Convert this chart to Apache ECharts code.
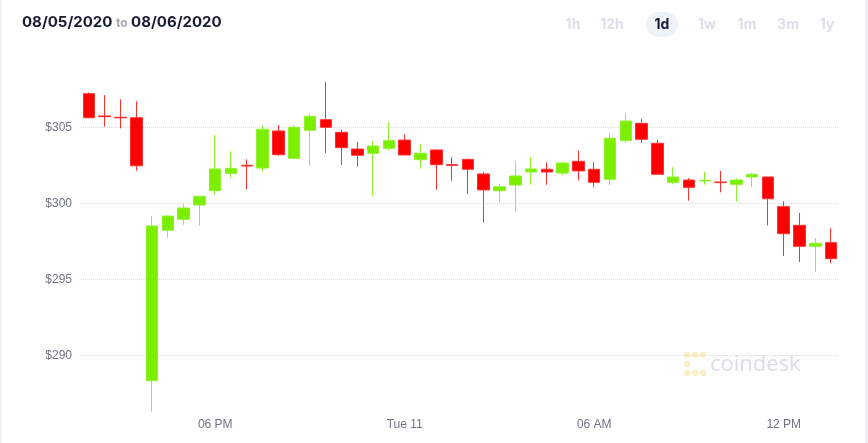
<!DOCTYPE html>
<html>
<head>
<meta charset="utf-8">
<script src="https://cdn.jsdelivr.net/npm/echarts@6/dist/echarts.min.js"></script>
<style>
  html, body { margin: 0; padding: 0; background: #fff; }
  #chart { width: 868px; height: 443px; }
</style>
</head>
<body>
<div id="chart"></div>
<script>
// half-hour candles, Mon 10 14:00 -> Tue 11 13:30
var times = ['14:00','14:30','15:00','15:30','16:00','16:30','17:00','17:30',
  '18:00','18:30','19:00','19:30','20:00','20:30','21:00','21:30',
  '22:00','22:30','23:00','23:30','00:00','00:30','01:00','01:30',
  '02:00','02:30','03:00','03:30','04:00','04:30','05:00','05:30',
  '06:00','06:30','07:00','07:30','08:00','08:30','09:00','09:30',
  '10:00','10:30','11:00','11:30','12:00','12:30','13:00','13:30'];

var xTickLabels = { '18:00': '06 PM', '00:00': 'Tue 11', '06:00': '06 AM', '12:00': '12 PM' };

var openPrices = [307.21, 305.75, 305.66, 305.63, 288.33, 298.22, 298.95, 299.89, 300.83, 301.97, 302.50, 302.32,
  304.76, 302.96, 304.80, 305.50, 304.67, 303.57, 303.29, 303.62, 304.16, 302.87, 303.51, 302.55,
  302.89, 301.93, 300.83, 301.20, 302.06, 302.24, 301.99, 302.76, 302.24, 301.58, 304.12, 305.26,
  303.95, 301.38, 301.53, 301.47, 301.40, 301.25, 301.73, 301.73, 299.78, 298.55, 297.17, 297.41];
var closePrices = [305.63, 305.70, 305.62, 302.47, 298.51, 299.16, 299.69, 300.46, 302.26, 302.30, 302.45, 304.87,
  303.20, 305.00, 305.72, 305.00, 303.66, 303.16, 303.77, 304.12, 303.18, 303.29, 302.54, 302.50,
  302.24, 300.88, 301.09, 301.80, 302.26, 302.06, 302.65, 302.13, 301.38, 304.28, 305.41, 304.21,
  301.91, 301.73, 301.05, 301.51, 301.36, 301.53, 301.91, 300.30, 298.00, 297.17, 297.37, 296.36];
var lowPrices = [305.60, 305.04, 304.93, 302.14, 286.29, 297.74, 298.59, 298.53, 300.57, 301.68, 300.92, 302.08,
  303.13, 302.89, 302.47, 303.31, 302.52, 302.41, 300.48, 303.46, 303.15, 302.28, 300.89, 301.49,
  300.61, 298.72, 300.09, 299.45, 301.22, 301.22, 301.84, 301.51, 301.05, 301.20, 303.99, 303.95,
  301.90, 301.25, 300.17, 301.22, 300.72, 300.11, 301.07, 298.55, 296.53, 296.14, 295.48, 296.05];
var highPrices = [307.30, 307.12, 306.84, 306.71, 299.18, 299.20, 299.95, 300.50, 304.49, 303.42, 302.89, 305.09,
  305.15, 305.15, 305.89, 307.98, 304.82, 304.03, 304.12, 305.35, 304.54, 303.90, 303.55, 303.05,
  302.93, 302.08, 301.27, 302.78, 303.05, 302.70, 302.74, 303.46, 302.72, 304.58, 305.92, 305.55,
  304.18, 302.39, 301.66, 302.08, 302.13, 301.64, 301.99, 301.75, 300.13, 299.36, 297.72, 298.36];

var ranges = ['1h', '12h', '1d', '1w', '1m', '3m', '1y'];
var rangeX = [573, 612, 662, 707, 747, 788, 827];

var candles = [];
for (var i = 0; i < times.length; i++) {
  candles.push([openPrices[i], closePrices[i], lowPrices[i], highPrices[i]]);
}

var buttons = [{
  type: 'rect',
  shape: { x: 646, y: 12, width: 32, height: 25, r: 12.5 },
  style: { fill: '#eff2f8' }
}];
ranges.forEach(function (r, k) {
  buttons.push({
    type: 'text',
    x: rangeX[k], y: 25,
    style: {
      text: r,
      fill: r === '1d' ? '#141a38' : '#dcdfe9',
      font: 'bold 14px Inter',
      align: 'center', verticalAlign: 'middle'
    }
  });
});

// watermark dots + word
var logo = [];
[[687, 355], [695, 355], [703, 355], [687, 364], [687, 373], [695, 373], [703, 373]].forEach(function (p) {
  logo.push({ type: 'circle', shape: { cx: p[0], cy: p[1], r: 3.2 }, style: { fill: '#fdeec8' } });
});
logo.push({
  type: 'text', x: 710, y: 365,
  style: { text: 'coindesk', fill: '#dadde4', font: '22px "Open Sans"', verticalAlign: 'middle' }
});

var myChart = echarts.init(document.getElementById('chart'));

myChart.setOption({
  animation: false,
  backgroundColor: '#fff',
  title: {
    left: 22, top: 15, padding: 0,
    text: '08/05/2020 {to|to} 08/06/2020',
    textStyle: {
      fontFamily: 'Inter', fontWeight: 'bold', fontSize: 15, color: '#161a33',
      rich: { to: { fontFamily: 'Inter', fontSize: 12, color: '#a3a7b4', padding: [2, 0, 0, 0] } }
    }
  },
  graphic: [
    { type: 'rect', shape: { x: 0, y: 0, width: 2, height: 443 }, style: { fill: '#eef1f6' } },
    { type: 'rect', shape: { x: 865, y: 0, width: 3, height: 443 }, style: { fill: '#eef1f6' } }
  ].concat(buttons).concat(logo),
  grid: { left: 81, right: 29, top: 51.3, bottom: 11.7 },
  xAxis: {
    type: 'category',
    data: times,
    offset: -21,
    axisLine: { show: false },
    axisTick: { show: false },
    splitLine: { show: false },
    axisLabel: {
      interval: 0,
      color: '#6e7382',
      fontFamily: 'Liberation Sans',
      fontSize: 12,
      formatter: function (v) { return xTickLabels[v] || ''; }
    }
  },
  yAxis: {
    type: 'value',
    min: 285, max: 310, interval: 5,
    axisLine: { show: false },
    axisTick: { show: false },
    axisLabel: {
      showMinLabel: false, showMaxLabel: false,
      color: '#6e7382',
      fontFamily: 'Liberation Sans',
      fontSize: 12,
      margin: 9,
      formatter: function (v) { return '$' + v; }
    },
    splitLine: {
      showMinLine: false, showMaxLine: false,
      lineStyle: { color: '#d9dbe2', type: 'dotted', width: 1 }
    }
  },
  series: [{
    type: 'candlestick',
    data: candles,
    barWidth: 12,
    itemStyle: {
      color: '#7cee00',
      color0: '#ff0000',
      borderColor: '#8ef22a',
      borderColor0: '#ff3030',
      borderWidth: 1
    }
  }]
});
</script>
</body>
</html>
